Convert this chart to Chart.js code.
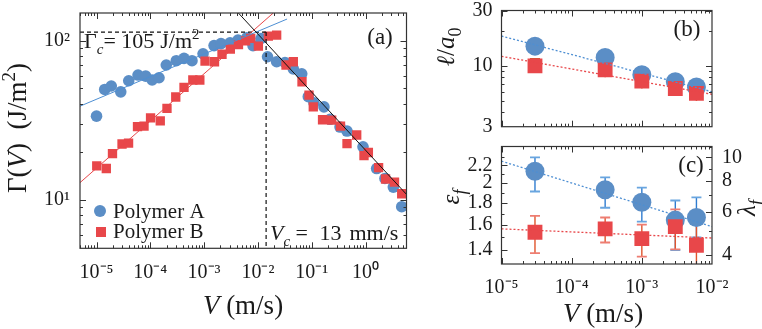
<!DOCTYPE html>
<html><head><meta charset="utf-8">
<script src="https://cdn.jsdelivr.net/npm/chart.js@4.4.1/dist/chart.umd.min.js"></script>
<style>
html,body{margin:0;padding:0;background:#fff;}
#wrap{position:relative;width:762px;height:329px;overflow:hidden;background:#fff}
canvas{position:absolute}
</style></head><body>
<div id="wrap">
<canvas id="ca" width="420" height="329" style="left:0;top:0"></canvas>
<canvas id="cb" width="342" height="140" style="left:420px;top:0"></canvas>
<canvas id="cc" width="342" height="193" style="left:420px;top:136px"></canvas>
</div>
<script>
// ---------- Panel (a) data ----------
const vA = [1.0e-5,1.42e-5,1.88e-5,2.82e-5,3.97e-5,5.91e-5,8.21e-5,1.08e-4,1.45e-4,1.98e-4,3.04e-4,4.23e-4,5.95e-4,9.55e-4,1.53e-3,2.06e-3,3.03e-3,4.26e-3,6.19e-3,8.11e-3,1.14e-2,1.51e-2,2.23e-2,3.19e-2,4.55e-2,6.52e-2,8.65e-2,0.110,0.169,0.219,0.336,0.453,0.899,1.61,2.30,3.29,4.71];
const gA = [33.5,49.3,51.8,47.6,55.9,60.7,59.8,56.5,58.4,70.2,74.7,77.3,74.7,82.6,93.0,95.7,96.9,100.7,104.1,93.0,103,79.1,73.6,72.8,66.4,61.8,44.4,40.7,38.3,32.0,28.6,27.0,21.5,15.7,13.6,12.0,9.04];
const vB = [1.01e-5,1.52e-5,1.98e-5,2.98e-5,3.94e-5,5.78e-5,7.64e-5,1.01e-4,1.53e-4,2.04e-4,2.97e-4,4.23e-4,6.17e-4,8.32e-4,1.04e-3,1.56e-3,2.15e-3,3.07e-3,4.35e-3,5.89e-3,7.35e-3,1.02e-2,1.56e-2,2.23e-2,3.33e-2,4.55e-2,6.60e-2,8.91e-2,0.107,0.159,0.235,0.343,0.453,0.686,0.937,1.13,1.75,2.36,3.46,4.71];
const gB = [16.3,15.7,19.5,22.4,22.7,28.8,29.0,32.7,31.3,37.5,44.2,50.8,56.5,56.5,74.3,73.6,82.0,88.4,94.2,99.6,103.2,92.3,106.7,108.3,70.2,73.6,55.1,45.4,38.3,31.8,31.6,29.0,22.5,25.5,18.9,19.8,15.9,13.5,12.9,10.9];
const vFitA = [4.93e-6, 0.0348], gFitA = [38.7, 136.5];
const vFitB = [4.93e-6, 0.0193], gFitB = [12.8, 149];
const vFitHigh = [4.33e-3, 5.78], gFitHigh = [149, 10.8];
const gammaC = 113;      // dashed level (labelled 105 J/m^2)
const vC = 0.0142;       // dashed critical velocity
const xRangeA = [4.93e-6, 5.78], yRangeA = [4.95, 149];
const xTicksA = [1e-5,1e-4,1e-3,1e-2,1e-1,1e0];
const yTicksA = [10, 100];

// ---------- Panels (b),(c) data ----------
const vBC = [3e-5, 3e-4, 1e-3, 3e-3, 6e-3];
const ellA = [14.8, 11.8, 8.4, 7.3, 6.6];
const ellB = [10.0, 9.25, 7.4, 6.4, 5.8];
const ellBHi = [11.5, 10.7, 8.55, 7.4, 6.7];
const ellBLo = [8.7, 8.0, 6.4, 5.55, 5.0];
const vFitBC = [1e-5, 1e-2];
const ellFitA = [18.1, 6.0], ellFitB = [12.1, 5.7];
const epsA = [2.132, 1.931, 1.808, 1.643, 1.666];
const epsALo = [1.914, 1.755, 1.629, 1.400, 1.498];
const epsAHi = [2.297, 2.063, 1.954, 1.824, 1.855];
const epsB = [1.540, 1.568, 1.488, 1.587, 1.437];
const epsBLo = [1.377, 1.458, 1.352, 1.405, 1.25];
const epsBHi = [1.680, 1.666, 1.604, 1.740, 1.657];
const epsFitA = [2.250, 1.587], epsFitB = [1.568, 1.493];
const xRangeBC = [1e-5, 1e-2];
const xTicksBC = [1e-5, 1e-4, 1e-3, 1e-2];
const yRangeB = [3, 30], yTicksB = [3, 10, 30];
const yRangeC = [1.302, 2.433], yTicksC = [1.4, 1.6, 1.8, 2, 2.2];
const lamRange = [3.68, 11.06], lamTicks = [4, 6, 8, 10];

// ---------- style ----------
const BLUE = '#5b8ec6', RED = '#e8474a', INK = '#1a1a1a', FRAME = '#333';
const FAM = "'Liberation Serif', 'Times New Roman', serif";
Chart.defaults.font.family = FAM;
Chart.defaults.color = INK;

const pts = (xs, ys) => xs.map((x, i) => ({x, y: ys[i]}));
const SUP = {'-':'⁻','0':'⁰','1':'¹','2':'²','3':'³','4':'⁴','5':'⁵','6':'⁶','7':'⁷','8':'⁸','9':'⁹'};
const pow10 = v => '10' + String(Math.round(Math.log10(v))).split('').map(c => SUP[c]).join('');

function rich(ctx, parts, x, y, o) {
  const base = o.size;
  const fnt = p => `${p.it ? 'italic ' : ''}${(p.sub || p.sup) ? Math.round(base * 0.7) : base}px ${FAM}`;
  let w = 0;
  parts.forEach(p => { ctx.font = fnt(p); p.w = ctx.measureText(p.t).width + (p.gap || 0); w += p.w; });
  ctx.save();
  ctx.translate(x, y);
  if (o.rot) ctx.rotate(o.rot);
  let cx = o.align === 'center' ? -w / 2 : (o.align === 'right' ? -w : 0);
  const mid = o.middle ? base * 0.33 : 0;
  ctx.textBaseline = 'alphabetic';
  ctx.fillStyle = o.color || INK;
  parts.forEach(p => {
    ctx.font = fnt(p);
    const dy = p.sub ? base * 0.25 : (p.sup ? -base * 0.4 : 0);
    ctx.fillText(p.t, cx, dy + mid);
    cx += p.w;
  });
  ctx.restore();
}

function logMinors(lo, hi) {
  const out = [];
  for (let e = Math.floor(Math.log10(lo)) - 1; e <= Math.ceil(Math.log10(hi)); e++)
    for (let k = 1; k <= 9; k++) { const v = k * Math.pow(10, e); if (v >= lo && v <= hi) out.push(v); }
  return out;
}

// fixed axis sizes, no extra label padding
const fixW = w => s => { s.width = w; s.paddingTop = 0; s.paddingBottom = 0; s.paddingLeft = 0; s.paddingRight = 0; };
const fixH = h => s => { s.height = h; s.paddingTop = 0; s.paddingBottom = 0; s.paddingLeft = 0; s.paddingRight = 0; };

// frame + inward ticks
function frameTicks(specs) {
  return {
    id: 'frameTicks',
    afterDraw(chart) {
      const {ctx, chartArea: a} = chart;
      ctx.save();
      ctx.strokeStyle = FRAME; ctx.lineWidth = 1;
      specs.forEach(s => {
        const sc = chart.scales[s.id];
        const draw = (vals, len) => vals.forEach(v => {
          const p = Math.round(sc.getPixelForValue(v)) + 0.5;
          ctx.beginPath();
          if (sc.isHorizontal()) {
            if (p < a.left || p > a.right) return;
            ctx.moveTo(p, a.bottom); ctx.lineTo(p, a.bottom - len);
            ctx.moveTo(p, a.top); ctx.lineTo(p, a.top + len);
          } else {
            if (p < a.top || p > a.bottom) return;
            if (s.sides.includes('left')) { ctx.moveTo(a.left, p); ctx.lineTo(a.left + len, p); }
            if (s.sides.includes('right')) { ctx.moveTo(a.right, p); ctx.lineTo(a.right - len, p); }
          }
          ctx.stroke();
        });
        draw(s.minors, 3);
        draw(s.majors, 6);
      });
      ctx.lineWidth = 1.2;
      ctx.strokeRect(a.left, a.top, a.right - a.left, a.bottom - a.top);
      ctx.restore();
    }
  };
}

function errBars(sets) {
  return {
    id: 'errBars',
    beforeDatasetsDraw(chart) {
      const {ctx, chartArea: a} = chart;
      ctx.save();
      ctx.beginPath(); ctx.rect(a.left, a.top, a.right - a.left, a.bottom - a.top); ctx.clip();
      sets.forEach(s => {
        const xs = chart.scales.x, ys = chart.scales[s.yid || 'y'];
        s.x.forEach((xv, i) => {
          const px = xs.getPixelForValue(xv);
          const pl = ys.getPixelForValue(s.lo[i]), ph = ys.getPixelForValue(s.hi[i]);
          ctx.strokeStyle = s.color; ctx.lineWidth = 1.4;
          ctx.beginPath(); ctx.moveTo(px, pl); ctx.lineTo(px, ph); ctx.stroke();
          ctx.strokeStyle = s.cap; ctx.lineWidth = 1.8;
          ctx.beginPath();
          ctx.moveTo(px - s.cw, ph); ctx.lineTo(px + s.cw, ph);
          if (s.both) { ctx.moveTo(px - s.cw, pl); ctx.lineTo(px + s.cw, pl); }
          ctx.stroke();
        });
      });
      ctx.restore();
    }
  };
}

function textPlugin(fn, ox, oy) {
  return { id: 'txt', afterDraw(chart) { const c = chart.ctx; c.save(); c.translate(-ox, -oy); fn(c); c.restore(); } };
}

const lineDS = (xs, ys, color, dash, width) => ({
  data: pts(xs, ys), showLine: true, borderColor: color, borderWidth: width || 1,
  borderDash: dash || [], pointRadius: 0, fill: false
});

const tickFont = {family: FAM, size: 20};

// ---------- Panel (a) ----------
new Chart(document.getElementById('ca'), {
  type: 'scatter',
  data: {datasets: [
    lineDS(vFitHigh, gFitHigh, '#111', null, 1),
    lineDS(vFitA, gFitA, '#4e8fd3', null, 1),
    lineDS(vFitB, gFitB, RED, null, 1),
    lineDS([xRangeA[0], vC], [gammaC, gammaC], '#111', [4, 3], 1.2),
    lineDS([vC, vC], [gammaC, yRangeA[0]], '#111', [4, 3], 1.2),
    {label: 'Polymer B', data: pts(vB, gB), pointStyle: 'rect', pointRadius: 6.6, backgroundColor: RED, borderWidth: 0},
    {label: 'Polymer A', data: pts(vA, gA), pointStyle: 'circle', pointRadius: 5.8, backgroundColor: BLUE, borderWidth: 0}
  ]},
  options: {
    responsive: false, animation: false,
    layout: {padding: {left: 0, top: 13, right: 13.5, bottom: 0}},
    plugins: {legend: {display: false}, tooltip: {enabled: false}},
    scales: {
      x: {type: 'logarithmic', min: xRangeA[0], max: xRangeA[1],
        grid: {display: false, drawTicks: false}, border: {display: false},
        afterBuildTicks: s => { s.ticks = xTicksA.map(v => ({value: v})); },
        afterFit: fixH(80.7),
        ticks: {callback: v => pow10(v), font: tickFont, padding: 12, maxRotation: 0, autoSkip: false, color: INK}},
      y: {type: 'logarithmic', min: yRangeA[0], max: yRangeA[1],
        grid: {display: false, drawTicks: false}, border: {display: false},
        afterBuildTicks: s => { s.ticks = yTicksA.map(v => ({value: v})); },
        afterFit: fixW(80),
        ticks: {callback: v => pow10(v), font: tickFont, padding: 10, autoSkip: false, color: INK}}
    }
  },
  plugins: [
    frameTicks([
      {id: 'x', majors: xTicksA, minors: logMinors(xRangeA[0], xRangeA[1])},
      {id: 'y', majors: yTicksA, minors: logMinors(yRangeA[0], yRangeA[1]), sides: ['left', 'right']}
    ]),
    textPlugin(c => {
      rich(c, [{t: '(a)'}], 380, 36, {size: 23, align: 'center', middle: true});
      rich(c, [{t: 'Γ'}, {t: 'c', it: true, sub: true}, {t: '= 105', gap: 6}, {t: 'J/m'}, {t: '2', sup: true}], 84, 48, {size: 22});
      rich(c, [{t: 'V', it: true}, {t: 'c', it: true, sub: true}, {t: ' = ', gap: 6}, {t: '13', gap: 8}, {t: 'mm/s'}], 270, 240, {size: 22});
      // legend
      c.fillStyle = BLUE; c.beginPath(); c.arc(100, 211, 6, 0, Math.PI * 2); c.fill();
      c.fillStyle = RED; c.fillRect(96, 227, 10, 10);
      rich(c, [{t: 'Polymer A'}], 113, 211, {size: 21, middle: true});
      rich(c, [{t: 'Polymer B'}], 113, 231, {size: 21, middle: true});
      // axis titles
      rich(c, [{t: 'V', it: true}, {t: ' (m/s)', gap: 0}], 243, 305, {size: 27, align: 'center', middle: true});
      rich(c, [{t: 'Γ('}, {t: 'V', it: true}, {t: ')  (J/m'}, {t: '2', sup: true}, {t: ')'}], 17, 128,
        {size: 27, align: 'center', middle: true, rot: -Math.PI / 2});
    }, 0, 0)
  ]
});

// ---------- Panel (b) ----------
new Chart(document.getElementById('cb'), {
  type: 'scatter',
  data: {datasets: [
    lineDS(vFitBC, ellFitA, '#4e8fd3', [2, 2], 1.3),
    lineDS(vFitBC, ellFitB, RED, [2, 2], 1.3),
    {label: 'Polymer B', data: pts(vBC, ellB), pointStyle: 'rect', pointRadius: 10.5, backgroundColor: RED, borderWidth: 0},
    {label: 'Polymer A', data: pts(vBC, ellA), pointStyle: 'circle', pointRadius: 9.5, backgroundColor: BLUE, borderWidth: 0}
  ]},
  options: {
    responsive: false, animation: false,
    layout: {padding: {left: 0, top: 7, right: 50, bottom: 0}},
    plugins: {legend: {display: false}, tooltip: {enabled: false}},
    scales: {
      x: {type: 'logarithmic', min: xRangeBC[0], max: xRangeBC[1],
        grid: {display: false, drawTicks: false}, border: {display: false},
        afterBuildTicks: s => { s.ticks = xTicksBC.map(v => ({value: v})); },
        afterFit: fixH(13.3),
        ticks: {display: false}},
      y: {type: 'logarithmic', min: yRangeB[0], max: yRangeB[1],
        grid: {display: false, drawTicks: false}, border: {display: false},
        afterBuildTicks: s => { s.ticks = yTicksB.map(v => ({value: v})); },
        afterFit: fixW(81.5),
        ticks: {callback: v => String(v), font: tickFont, padding: 9, autoSkip: false, color: INK}}
    }
  },
  plugins: [
    errBars([{x: vBC, lo: ellBLo, hi: ellBHi, color: '#d9662a', cap: '#c8602a', cw: 5}]),
    frameTicks([
      {id: 'x', majors: xTicksBC, minors: logMinors(xRangeBC[0], xRangeBC[1])},
      {id: 'y', majors: yTicksB, minors: logMinors(yRangeB[0], yRangeB[1]), sides: ['left', 'right']}
    ]),
    textPlugin(c => {
      rich(c, [{t: '(b)'}], 687, 28, {size: 23, align: 'center', middle: true});
      rich(c, [{t: 'ℓ', it: true}, {t: '/'}, {t: 'a', it: true}, {t: '0', sub: true}], 446, 47,
        {size: 25, align: 'center', middle: true, rot: -Math.PI / 2});
    }, 420, 0)
  ]
});

// ---------- Panel (c) ----------
new Chart(document.getElementById('cc'), {
  type: 'scatter',
  data: {datasets: [
    lineDS(vFitBC, epsFitA, '#4e8fd3', [2, 2], 1.3),
    lineDS(vFitBC, epsFitB, RED, [2, 2], 1.3),
    {label: 'Polymer B', data: pts(vBC, epsB), pointStyle: 'rect', pointRadius: 10.5, backgroundColor: RED, borderWidth: 0},
    {label: 'Polymer A', data: pts(vBC, epsA), pointStyle: 'circle', pointRadius: 9.5, backgroundColor: BLUE, borderWidth: 0}
  ]},
  options: {
    responsive: false, animation: false,
    layout: {padding: {left: 0, top: 8, right: 0, bottom: 0}},
    plugins: {legend: {display: false}, tooltip: {enabled: false}},
    scales: {
      x: {type: 'logarithmic', min: xRangeBC[0], max: xRangeBC[1],
        grid: {display: false, drawTicks: false}, border: {display: false},
        afterBuildTicks: s => { s.ticks = xTicksBC.map(v => ({value: v})); },
        afterFit: fixH(65),
        ticks: {callback: v => pow10(v), font: tickFont, padding: 12, maxRotation: 0, autoSkip: false, color: INK}},
      y: {type: 'logarithmic', min: yRangeC[0], max: yRangeC[1],
        grid: {display: false, drawTicks: false}, border: {display: false},
        afterBuildTicks: s => { s.ticks = yTicksC.map(v => ({value: v})); },
        afterFit: fixW(81.5),
        ticks: {callback: v => String(v), font: tickFont, padding: 9, autoSkip: false, color: INK}},
      y2: {axis: 'y', position: 'right', type: 'logarithmic', min: lamRange[0], max: lamRange[1],
        grid: {display: false, drawTicks: false}, border: {display: false},
        afterBuildTicks: s => { s.ticks = lamTicks.map(v => ({value: v})); },
        afterFit: fixW(50),
        ticks: {callback: v => String(v), font: tickFont, padding: 10, autoSkip: false, color: INK}}
    }
  },
  plugins: [
    errBars([
      {x: vBC, lo: epsALo, hi: epsAHi, color: '#2f7cd0', cap: '#69a5df', cw: 5, both: true},
      {x: vBC, lo: epsBLo, hi: epsBHi, color: '#e0542c', cap: '#ee7d72', cw: 5, both: true}
    ]),
    frameTicks([
      {id: 'x', majors: xTicksBC, minors: logMinors(xRangeBC[0], xRangeBC[1])},
      {id: 'y', majors: yTicksC, minors: [1.3, 1.5, 1.7, 1.9, 2.1, 2.3], sides: ['left']},
      {id: 'y2', majors: lamTicks, minors: [5, 7, 9, 11], sides: ['right']}
    ]),
    textPlugin(c => {
      rich(c, [{t: '(c)'}], 691, 164, {size: 23, align: 'center', middle: true});
      rich(c, [{t: 'ε', it: true}, {t: 'f', it: true, sub: true}], 451, 197,
        {size: 25, align: 'center', middle: true, rot: -Math.PI / 2});
      rich(c, [{t: 'λ', it: true}, {t: 'f', it: true, sub: true}], 747, 208,
        {size: 25, align: 'center', middle: true, rot: -Math.PI / 2});
      rich(c, [{t: 'V', it: true}, {t: ' (m/s)'}], 603, 313, {size: 27, align: 'center', middle: true});
    }, 420, 136)
  ]
});
</script>
</body></html>
